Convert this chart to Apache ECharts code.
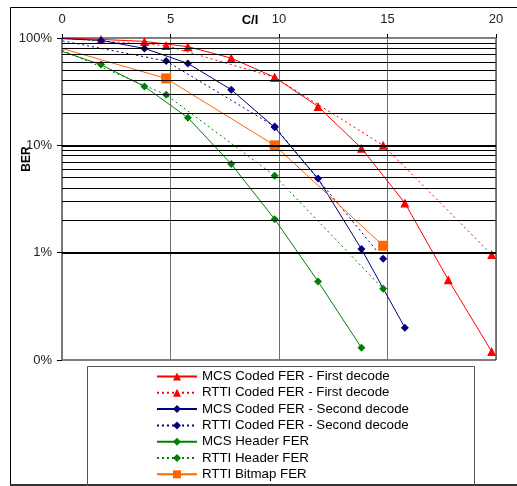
<!DOCTYPE html>
<html>
<head>
<meta charset="utf-8">
<script src="https://cdn.jsdelivr.net/npm/echarts@6/dist/echarts.min.js"></script>
<style>
html,body{margin:0;padding:0;background:#fff;}
#chart{width:517px;height:486px;}
</style>
</head>
<body>
<div id="chart"></div>
<script>
// C/I values (dB)
const xSolid = [-0.2, 1.8, 3.8, 5.8, 7.8, 9.8, 11.8, 13.8, 15.8, 17.8, 19.8];
const xDotted = [-0.2, 4.8, 9.8, 14.8, 19.8];

// BER / FER values
const mcsFirst   = [1.0, 0.97, 0.93, 0.83, 0.65, 0.43, 0.23, 0.094, 0.029, 0.0056, 0.0012];
const rttiFirst  = [1.0, 0.85, 0.43, 0.10, 0.0096];
const mcsSecond  = [0.99, 0.95, 0.80, 0.58, 0.33, 0.147, 0.049, 0.0108, 0.0020];
const rttiSecond = [0.96, 0.61, 0.15, 0.0088];
const mcsHeader  = [0.775, 0.565, 0.353, 0.181, 0.067, 0.0205, 0.0054, 0.0013];
const rttiHeader = [0.80, 0.296, 0.052, 0.0046];
const rttiBitmap = [0.82, 0.42, 0.10, 0.0116];

const seriesNames = [
  'MCS Coded FER - First decode',
  'RTTI Coded FER - First decode',
  'MCS Coded FER - Second decode',
  'RTTI Coded FER - Second decode',
  'MCS Header FER',
  'RTTI Header FER',
  'RTTI Bitmap FER'
];
const xTickLabels = ['0', '5', '10', '15', '20'];
const yTickLabels = {1: '100%', 0.1: '10%', 0.01: '1%', 0.001: '0%'};

function pts(xs, ys) { return ys.map((v, i) => [xs[i], v]); }

// minor log gridlines
const minorLines = [];
[0.001, 0.01, 0.1].forEach(d => {
  for (let k = 2; k <= 9; k++) minorLines.push({yAxis: +(k * d).toPrecision(3)});
});
const majorLines = [{yAxis: 0.1}, {yAxis: 0.01}];

const dotted = [2, 3];

function mk(name, xs, ys, color, dash, symbol, size) {
  return {
    name: name, type: 'line', data: pts(xs, ys), z: 3,
    symbol: symbol, symbolSize: size, clip: true,
    lineStyle: {color: color, width: 1, type: dash},
    itemStyle: {color: color},
    emphasis: {disabled: true}, animation: false
  };
}

const chart = echarts.init(document.getElementById('chart'), null, {renderer: 'canvas'});
chart.setOption({
  animation: false,
  backgroundColor: '#fff',
  grid: {left: 62, right: 21, top: 38, bottom: 126, show: true, borderColor: '#000', borderWidth: 1, containLabel: false},
  xAxis: {
    type: 'value', position: 'top', min: 0, max: 20, interval: 5,
    axisLine: {show: true, lineStyle: {color: '#808080'}},
    axisTick: {show: true, length: 4, lineStyle: {color: '#000'}},
    axisLabel: {margin: 12, color: '#222', fontFamily: 'Liberation Sans, Arial', fontSize: 13,
      formatter: v => xTickLabels[Math.round(v / 5)]},
    splitLine: {show: true, lineStyle: {color: '#707070', width: 1}}
  },
  yAxis: {
    type: 'log', logBase: 10, min: 0.001, max: 1,
    axisLine: {show: true, lineStyle: {color: '#707070'}},
    axisTick: {show: true, length: 5, lineStyle: {color: '#000'}},
    axisLabel: {margin: 10, color: '#222', fontFamily: 'Liberation Sans, Arial', fontSize: 13,
      formatter: v => yTickLabels[+v.toPrecision(3)] || ''},
    splitLine: {show: false}
  },
  legend: {
    orient: 'vertical', left: 156, top: 370, padding: 0, itemGap: 3.3, itemWidth: 40, itemHeight: 10,
    data: seriesNames,
    textStyle: {color: '#000', fontFamily: 'Liberation Sans, Arial', fontSize: 13.3},
    selectedMode: false
  },
  graphic: [
    {type: 'rect', shape: {x: 10.5, y: 7.5, width: 520, height: 477}, style: {fill: 'none', stroke: '#000', lineWidth: 1}, z: -1, silent: true},
    {type: 'line', shape: {x1: 10, y1: 485, x2: 517, y2: 485}, style: {stroke: '#333', lineWidth: 2}, silent: true},
    {type: 'rect', shape: {x: 87.5, y: 366.5, width: 387, height: 130}, style: {fill: 'none', stroke: '#555', lineWidth: 1}, silent: true},
    {type: 'text', x: 250, y: 20, style: {text: 'C/I', font: 'bold 13px "Liberation Sans", Arial', fill: '#000', textAlign: 'center', textVerticalAlign: 'middle'}, silent: true},
    {type: 'text', x: 27, y: 159, rotation: Math.PI / 2, style: {text: 'BER', font: 'bold 12px "Liberation Sans", Arial', fill: '#000', textAlign: 'center', textVerticalAlign: 'middle'}, silent: true}
  ],
  series: [
    {
      type: 'line', data: [], z: 1, silent: true,
      markLine: {silent: true, symbol: 'none', label: {show: false}, animation: false,
        lineStyle: {color: '#000', width: 1, type: 'solid'}, data: minorLines}
    },
    {
      type: 'line', data: [], z: 1, silent: true,
      markLine: {silent: true, symbol: 'none', label: {show: false}, animation: false,
        lineStyle: {color: '#000', width: 2, type: 'solid'}, data: majorLines.concat([{yAxis: 0.001}])}
    },
    mk(seriesNames[0], xSolid, mcsFirst, '#FF0000', 'solid', 'triangle', 9),
    mk(seriesNames[1], xDotted, rttiFirst, '#FF0000', dotted, 'triangle', 9),
    mk(seriesNames[2], xSolid, mcsSecond, '#000080', 'solid', 'diamond', 8),
    mk(seriesNames[3], xDotted, rttiSecond, '#000080', dotted, 'diamond', 8),
    mk(seriesNames[4], xSolid, mcsHeader, '#008000', 'solid', 'diamond', 8),
    mk(seriesNames[5], xDotted, rttiHeader, '#008000', dotted, 'diamond', 8),
    mk(seriesNames[6], xDotted, rttiBitmap, '#FF6600', 'solid', 'rect', 10)
  ]
});
</script>
</body>
</html>
